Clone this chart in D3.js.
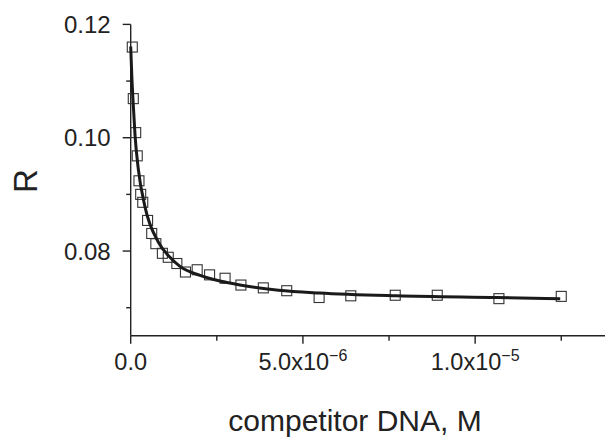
<!DOCTYPE html>
<html>
<head>
<meta charset="utf-8">
<script src="https://cdn.jsdelivr.net/npm/d3@7"></script>
<style>
  body { margin: 0; background: #fff; }
  svg text { font-family: "Liberation Sans", Arial, Helvetica, sans-serif; fill: #222; }
</style>
</head>
<body>
<svg id="chart" width="605" height="438"></svg>
<script>
// competitor DNA concentration, in units of 1e-6 M
var competitor = [0.046, 0.075, 0.145, 0.19, 0.24, 0.29, 0.35, 0.49, 0.61, 0.73, 0.92, 1.09, 1.34, 1.59,
                  1.93, 2.29, 2.74, 3.20, 3.85, 4.53, 5.47, 6.39, 7.68, 8.90, 10.69, 12.50];
var rValues = [0.1160, 0.1069, 0.1009, 0.0968, 0.0924, 0.0900, 0.0886, 0.0854, 0.0831, 0.0813, 0.0796, 0.0789,
               0.0778, 0.0763, 0.0767, 0.0758, 0.0752, 0.0740, 0.0735, 0.0730, 0.0718, 0.0721, 0.0722, 0.0722,
               0.0716, 0.0720];

// fitted curve
var fitX = [0, 0.03, 0.075, 0.125, 0.22, 0.415, 0.80, 1.14, 1.43, 2.01, 2.59, 3.17, 4.29, 5.47, 7.72, 10.63, 12.47];
var fitR = [0.1161, 0.1112, 0.1058, 0.1005, 0.0945, 0.0878, 0.0816, 0.0789, 0.0773, 0.0757, 0.0747, 0.0740,
            0.0731, 0.0726, 0.0721, 0.0718, 0.0716];

var yMajor = [0.08, 0.10, 0.12];
var yMinor = [0.07, 0.09, 0.11];
var xMajor = [0, 5, 10];
var xMinor = [2.5, 7.5, 12.5];
var xLabels = [["0.0", ""], ["5.0x10", "\u22126"], ["1.0x10", "\u22125"]];

var plotLeft = 130.7, plotRight = 605, plotTop = 24.4, plotBottom = 335.7;

var svg = d3.select("#chart");

var x = d3.scaleLinear().domain([0, 13.77]).range([plotLeft, plotRight]);
var y = d3.scaleLinear().domain([0.06506, 0.12]).range([plotBottom, plotTop]);

// axes
var ax = svg.append("g").attr("stroke", "#222").attr("stroke-width", 1.4);
ax.append("line").attr("x1", plotLeft).attr("x2", plotLeft).attr("y1", plotTop).attr("y2", plotBottom);
ax.append("line").attr("x1", plotLeft).attr("x2", plotRight).attr("y1", plotBottom).attr("y2", plotBottom);

ax.selectAll(".ymaj").data(yMajor).enter().append("line")
  .attr("x1", plotLeft - 8).attr("x2", plotLeft)
  .attr("y1", function(d) { return y(d); }).attr("y2", function(d) { return y(d); });
ax.selectAll(".ymin").data(yMinor).enter().append("line")
  .attr("x1", plotLeft - 4.5).attr("x2", plotLeft)
  .attr("y1", function(d) { return y(d); }).attr("y2", function(d) { return y(d); });
ax.selectAll(".xmaj").data(xMajor).enter().append("line")
  .attr("y1", plotBottom).attr("y2", plotBottom + 8)
  .attr("x1", function(d) { return x(d); }).attr("x2", function(d) { return x(d); });
ax.selectAll(".xmin").data(xMinor).enter().append("line")
  .attr("y1", plotBottom).attr("y2", plotBottom + 5)
  .attr("x1", function(d) { return x(d); }).attr("x2", function(d) { return x(d); });

svg.selectAll(".ylab").data(yMajor).enter().append("text")
  .attr("x", plotLeft - 20).attr("y", function(d) { return y(d); })
  .attr("dy", "0.36em").attr("text-anchor", "end")
  .style("font-size", "24px")
  .text(function(d) { return d3.format(".2f")(d); });

var xl = svg.selectAll(".xlab").data(xMajor).enter().append("text")
  .attr("x", function(d) { return x(d); }).attr("y", 370)
  .attr("text-anchor", "middle")
  .style("font-size", "23.5px");
xl.append("tspan").text(function(d, i) { return xLabels[i][0]; });
xl.append("tspan").attr("dy", -9).style("font-size", "16px")
  .text(function(d, i) { return xLabels[i][1]; });

svg.append("text").attr("x", 355).attr("y", 431).attr("text-anchor", "middle")
  .style("font-size", "30px").text("competitor DNA, M");

svg.append("text").attr("transform", "translate(37,181) rotate(-90)")
  .attr("text-anchor", "middle").style("font-size", "33px").text("R");

// data squares
svg.selectAll(".pt").data(competitor).enter().append("rect")
  .attr("x", function(d) { return x(d) - 5; })
  .attr("y", function(d, i) { return y(rValues[i]) - 5; })
  .attr("width", 10).attr("height", 10)
  .attr("fill", "none").attr("stroke", "#333").attr("stroke-width", 1.1);

// fit line
var line = d3.line()
  .x(function(d) { return x(d); })
  .y(function(d, i) { return y(fitR[i]); })
  .curve(d3.curveMonotoneX);
svg.append("path").attr("d", line(fitX))
  .attr("fill", "none").attr("stroke", "#1a1a1a").attr("stroke-width", 3);
</script>
</body>
</html>
